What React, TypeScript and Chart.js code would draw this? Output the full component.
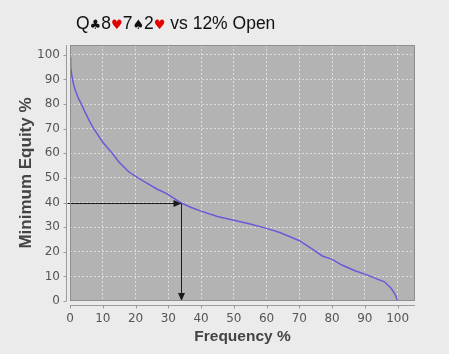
import React, { useEffect, useRef } from "react";
import { Chart, registerables } from "chart.js";

Chart.register(...registerables);

// ---- data ----
const frequency = [
  0, 0.2, 0.5, 1, 1.5, 2.5, 3.5, 4.5, 6, 7, 8.5, 10, 13, 15, 18, 21, 24, 26.5, 29.5, 32, 34,
  37, 40, 45, 50, 55, 60, 64, 67, 70, 72, 75, 77, 80, 83, 87, 91, 94, 96, 98, 99.3, 100,
];
const minEquity = [
  99, 95, 92, 88.5, 86, 82.5, 80, 77, 73, 70.5, 67.5, 64.5, 59.8, 56.4, 52.4, 49.8, 47.5, 45.5, 43.6, 41.5, 39.8,
  38, 36.5, 34.3, 32.8, 31.3, 29.5, 27.8, 26.2, 24.5, 22.8, 20.2, 18.3, 16.9, 14.6, 12.3, 10.4, 8.8, 7.8, 5.2, 2.5, 0,
];
const xTicks = [0, 10, 20, 30, 40, 50, 60, 70, 80, 90, 100];
const yTicks = [0, 10, 20, 30, 40, 50, 60, 70, 80, 90, 100];
const markerFrequency = 34;
const markerEquity = 40;

const titleParts = [
  { text: "Q", suit: false, red: false },
  { text: "♣", suit: true, red: false },
  { text: "8", suit: false, red: false },
  { text: "♥", suit: true, red: true },
  { text: "7", suit: false, red: false },
  { text: "♠", suit: true, red: false },
  { text: "2", suit: false, red: false },
  { text: "♥", suit: true, red: true },
  { text: " vs 12% Open", suit: false, red: false },
];
const xAxisTitle = "Frequency %";
const yAxisTitle = "Minimum Equity %";

const PAGE_BG = "#ebebeb";
const PLOT_BG = "#b3b3b3";
const GRID = "rgba(235,235,235,0.75)";
const AXIS = "#8e8e8e";
const TICK_COLOR = "#555555";
const LINE_COLOR = "#6a5ad8";

const decorPlugin = {
  id: "decor",
  beforeDraw(chart: any) {
    const { ctx, chartArea: a } = chart;
    ctx.save();
    ctx.fillStyle = PAGE_BG;
    ctx.fillRect(0, 0, chart.width, chart.height);
    ctx.fillStyle = PLOT_BG;
    ctx.fillRect(a.left, a.top, a.right - a.left, a.bottom - a.top);
    ctx.restore();
  },
  afterDatasetsDraw(chart: any) {
    const { ctx } = chart;
    const xs = chart.scales.x;
    const ys = chart.scales.y;
    const px = Math.round(xs.getPixelForValue(markerFrequency)) + 0.5;
    const py = Math.round(ys.getPixelForValue(markerEquity)) + 0.5;
    const x0 = xs.getPixelForValue(0) - 2.5;
    const yb = ys.getPixelForValue(0);
    ctx.save();
    ctx.strokeStyle = "#1a1a1a";
    ctx.fillStyle = "#1a1a1a";
    ctx.lineWidth = 1;
    ctx.beginPath();
    ctx.moveTo(x0, py);
    ctx.lineTo(px - 6, py);
    ctx.moveTo(px, py);
    ctx.lineTo(px, yb - 6);
    ctx.stroke();
    ctx.beginPath();
    ctx.moveTo(px, py);
    ctx.lineTo(px - 8, py - 3.5);
    ctx.lineTo(px - 8, py + 3.5);
    ctx.closePath();
    ctx.fill();
    ctx.beginPath();
    ctx.moveTo(px, yb);
    ctx.lineTo(px - 3.5, yb - 8);
    ctx.lineTo(px + 3.5, yb - 8);
    ctx.closePath();
    ctx.fill();
    ctx.restore();
  },
  afterDraw(chart: any) {
    const { ctx, chartArea: a } = chart;
    const xs = chart.scales.x;
    const ys = chart.scales.y;
    ctx.save();
    // plot border
    ctx.strokeStyle = AXIS;
    ctx.lineWidth = 1;
    ctx.strokeRect(a.left + 0.5, a.top + 0.5, a.right - a.left - 1, a.bottom - a.top - 1);
    // offset axis lines with tick marks
    ctx.strokeStyle = "#9a9a9a";
    ctx.beginPath();
    const ax = Math.round(a.left) - 3.5;
    ctx.moveTo(ax, a.top);
    ctx.lineTo(ax, a.bottom);
    yTicks.forEach((v) => {
      const y = Math.round(ys.getPixelForValue(v)) + 0.5;
      ctx.moveTo(ax - 3, y);
      ctx.lineTo(ax, y);
    });
    const ay = Math.round(a.bottom) + 4.5;
    ctx.moveTo(a.left, ay);
    ctx.lineTo(a.right, ay);
    xTicks.forEach((v) => {
      const x = Math.round(xs.getPixelForValue(v)) + 0.5;
      ctx.moveTo(x, ay);
      ctx.lineTo(x, ay + 3);
    });
    ctx.stroke();
    // title
    let x = 76;
    const baseY = 29;
    ctx.textBaseline = "alphabetic";
    ctx.textAlign = "left";
    titleParts.forEach((p) => {
      ctx.font = p.suit ? "13px 'DejaVu Sans'" : "17.5px 'Liberation Sans', Arial, sans-serif";
      ctx.fillStyle = p.red ? "#e00000" : "#111111";
      ctx.fillText(p.text, x, baseY);
      x += ctx.measureText(p.text).width;
    });
    ctx.restore();
  },
};

export default function App() {
  const ref = useRef<HTMLCanvasElement | null>(null);
  useEffect(() => {
    if (!ref.current) return;
    const chart = new Chart(ref.current, {
      type: "line",
      data: {
        datasets: [
          {
            data: frequency.map((f, i) => ({ x: f, y: minEquity[i] })),
            borderColor: LINE_COLOR,
            borderWidth: 1.5,
            pointRadius: 0,
            tension: 0,
            fill: false,
          },
        ],
      },
      options: {
        animation: false,
        responsive: false,
        devicePixelRatio: 1,
        layout: { padding: { top: 45, right: 34, left: 0, bottom: 0 } },
        plugins: { legend: { display: false }, tooltip: { enabled: false } },
        scales: {
          x: {
            type: "linear",
            min: 0,
            max: 105.3,
            afterBuildTicks: (s: any) => {
              s.ticks = xTicks.map((v) => ({ value: v }));
            },
            afterFit: (s: any) => {
              s.height = 53;
            },
            grid: { color: GRID, lineWidth: 1, drawTicks: false },
            border: { display: false, dash: [2, 2] },
            ticks: {
              color: TICK_COLOR,
              font: { family: "'DejaVu Sans'", size: 12 },
              padding: 11,
              maxRotation: 0,
            },
            title: {
              display: true,
              text: xAxisTitle,
              color: "#444444",
              font: { family: "'Liberation Sans', Arial", size: 15.5, weight: "bold" },
              padding: { top: 0, bottom: 7.5 },
            },
          },
          y: {
            type: "linear",
            min: 0,
            max: 104,
            afterBuildTicks: (s: any) => {
              s.ticks = yTicks.map((v) => ({ value: v }));
            },
            afterFit: (s: any) => {
              s.width = 70;
            },
            grid: { color: GRID, lineWidth: 1, drawTicks: false },
            border: { display: false, dash: [2, 2] },
            ticks: {
              color: TICK_COLOR,
              font: { family: "'DejaVu Sans'", size: 12 },
              padding: 10,
            },
            title: {
              display: true,
              text: yAxisTitle,
              color: "#444444",
              font: { family: "'Liberation Sans', Arial", size: 17, weight: "bold" },
              padding: { top: 16, bottom: 0 },
            },
          },
        },
      },
      plugins: [decorPlugin],
    });
    return () => chart.destroy();
  }, []);
  return (
    <div style={{ position: "absolute", left: 0, top: 0, width: 449, height: 354, background: PAGE_BG }}>
      <canvas ref={ref} width={449} height={354} style={{ display: "block", width: 449, height: 354 }} />
    </div>
  );
}
